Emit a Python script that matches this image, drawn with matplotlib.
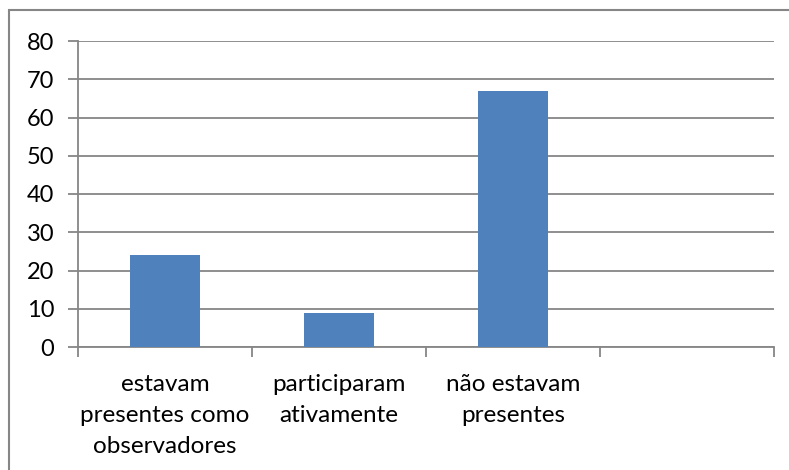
import matplotlib
matplotlib.use("Agg")
import matplotlib.pyplot as plt
from matplotlib.patches import Rectangle

categories = ["estavam\npresentes como\nobservadores", "participaram\nativamente", "não estavam\npresentes", ""]
values = [24, 9, 67, None]
yticks = [0, 10, 20, 30, 40, 50, 60, 70, 80]

plt.rcParams['font.family'] = ['Lato', 'DejaVu Sans']

W, H = 789, 470
fig = plt.figure(figsize=(W / 100, H / 100), dpi=100)
ax = fig.add_axes([78 / W, 1 - 347 / H, (774 - 78) / W, (347 - 41) / H])

grid_c = '#868686'
n = len(categories)
xs = list(range(n))
bar_x = [x for x, v in zip(xs, values) if v is not None]
bar_v = [v for v in values if v is not None]
ax.bar(bar_x, bar_v, width=0.4, color='#4F81BD', zorder=3)

ax.set_xlim(-0.5, n - 0.5)
ax.set_ylim(0, 80)
ax.set_yticks(yticks)
ax.set_yticklabels([str(t) for t in yticks], fontsize=17)
ax.yaxis.grid(True, color=grid_c, linewidth=1.3, zorder=0)
ax.set_axisbelow(True)

ax.set_xticks([i - 0.5 for i in range(n + 1)])
ax.set_xticklabels([])
ax.tick_params(axis='x', length=7, width=1.3, color=grid_c)
ax.tick_params(axis='y', length=7, width=1.3, color=grid_c, pad=10)
for i, c in enumerate(categories):
    ax.text(i, -0.087, c, transform=ax.get_xaxis_transform(), ha='center', va='top',
            fontsize=17.5, linespacing=1.6)

for s in ['top', 'right']:
    ax.spines[s].set_visible(False)
for s in ['left', 'bottom']:
    ax.spines[s].set_color(grid_c)
    ax.spines[s].set_linewidth(1.3)

fig.patches.append(Rectangle((9 / W, -0.1), 1.2, 1 - 10 / H + 0.1, transform=fig.transFigure,
                             fill=False, edgecolor='#868686', linewidth=1.5))

fig.savefig('out.png', dpi=100)
